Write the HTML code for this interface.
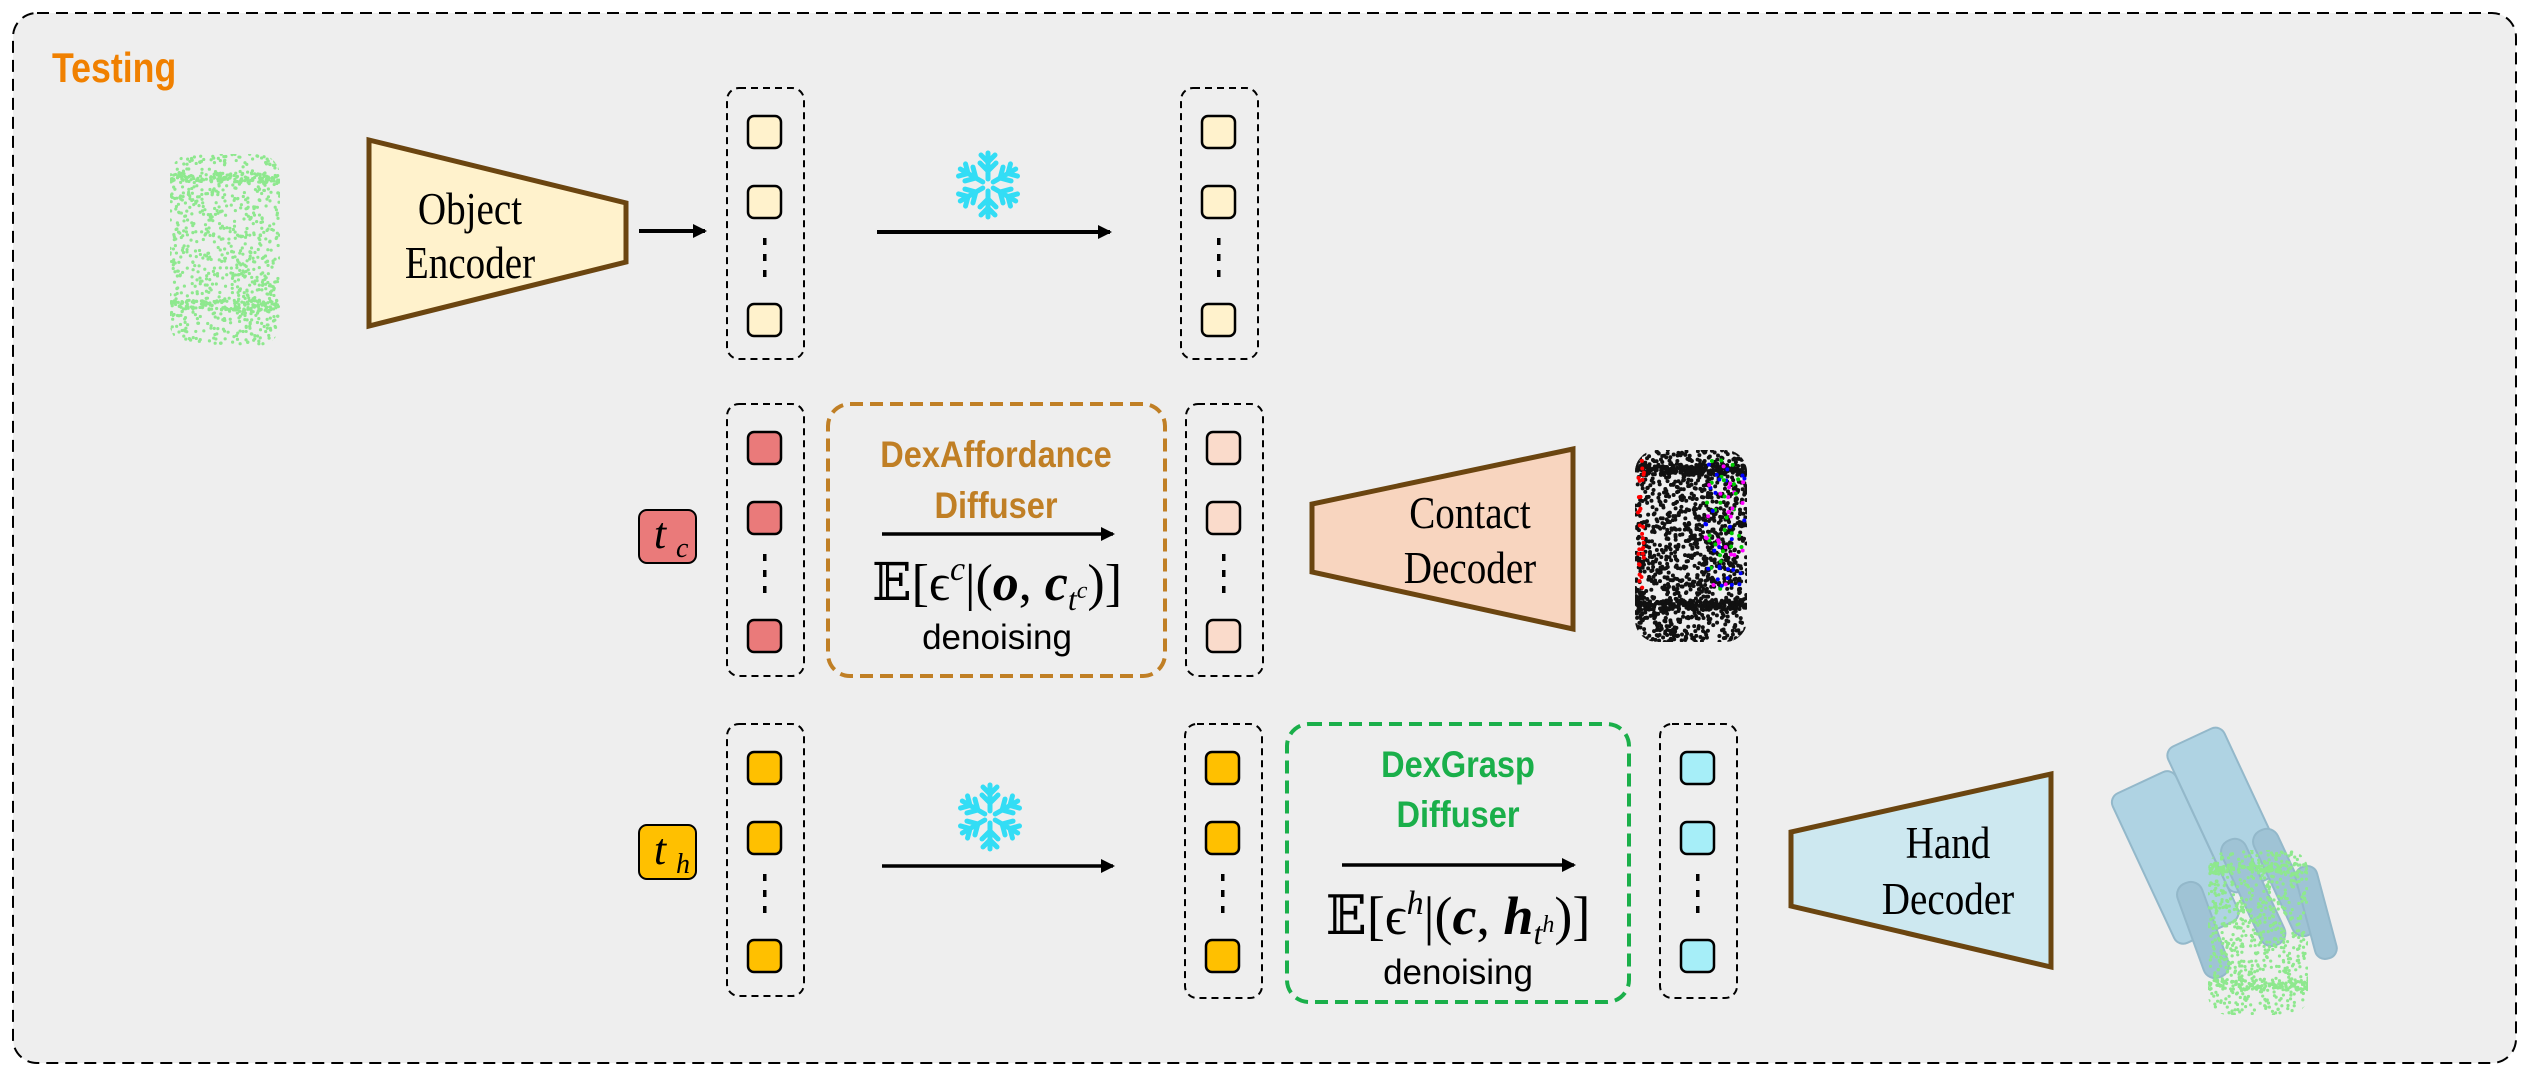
<!DOCTYPE html>
<html><head><meta charset="utf-8"><style>
html,body{margin:0;padding:0;background:#fff;width:2529px;height:1080px;overflow:hidden}
svg{position:absolute;left:0;top:0}
.serif{font-family:"Liberation Serif","DejaVu Serif",serif}
.sans{font-family:"Liberation Sans",sans-serif}
</style></head><body>
<svg id="s" width="2529" height="1080" viewBox="0 0 2529 1080" xmlns="http://www.w3.org/2000/svg">
<defs>
<marker id="ah" markerWidth="14" markerHeight="14" refX="12" refY="7" orient="auto" markerUnits="userSpaceOnUse"><path d="M0,0 L14,7 L0,14 z" fill="#000"/></marker>
<g id="flake" stroke="#33DDF5" stroke-width="5" fill="none" stroke-linecap="round">
<g id="arm"><line x1="0" y1="-6" x2="0" y2="-32"/><line x1="0" y1="-14" x2="-8" y2="-22"/><line x1="0" y1="-14" x2="8" y2="-22"/><line x1="0" y1="-23" x2="-7" y2="-30"/><line x1="0" y1="-23" x2="7" y2="-30"/></g>
<use href="#arm" transform="rotate(60)"/><use href="#arm" transform="rotate(120)"/><use href="#arm" transform="rotate(180)"/><use href="#arm" transform="rotate(240)"/><use href="#arm" transform="rotate(300)"/>
</g>
<clipPath id="cyl1"><rect x="170" y="154" width="110" height="192" rx="22"/></clipPath>
<clipPath id="cyl2"><rect x="1635" y="450" width="112" height="192" rx="22"/></clipPath>
<clipPath id="cyl3"><rect x="2208" y="850" width="100" height="165" rx="20"/></clipPath>
</defs>
<rect x="13" y="13" width="2503" height="1050" rx="24" fill="#EEEEEE" stroke="#000" stroke-width="2" stroke-dasharray="12,7"/>
<text x="52" y="82" class="sans" font-weight="bold" font-size="42" fill="#F08000" transform="translate(52 0) scale(0.85 1) translate(-52 0)">Testing</text>

<g id="clouds"></g>

<polygon points="369,140 626,203 626,262 369,326" fill="#FFF2CC" stroke="#6B4510" stroke-width="5"/>
<g transform="translate(470 0) scale(0.85 1)">
<text x="0" y="224" class="serif" font-size="46" text-anchor="middle">Object</text>
<text x="0" y="278" class="serif" font-size="46" text-anchor="middle">Encoder</text></g>
<line x1="639" y1="231" x2="705" y2="231" stroke="#000" stroke-width="4" marker-end="url(#ah)"/>

<g id="cols"></g>

<use href="#flake" x="988" y="185"/>
<line x1="877" y1="232" x2="1110" y2="232" stroke="#000" stroke-width="4" marker-end="url(#ah)"/>

<rect x="639" y="510" width="57" height="53" rx="8" fill="#EA7A7A" stroke="#000" stroke-width="2"/>
<text x="660" y="548" class="serif" font-style="italic" font-size="44" text-anchor="middle">t</text><text x="676" y="557" class="serif" font-style="italic" font-size="28">c</text>
<rect x="828" y="404" width="337" height="272" rx="22" fill="none" stroke="#C07F25" stroke-width="4" stroke-dasharray="13,7"/>
<g transform="translate(996 0) scale(0.88 1)">
<text x="0" y="467" class="sans" font-weight="bold" font-size="37" fill="#C07F25" text-anchor="middle">DexAffordance</text>
<text x="0" y="518" class="sans" font-weight="bold" font-size="37" fill="#C07F25" text-anchor="middle">Diffuser</text></g>
<line x1="882" y1="534" x2="1113" y2="534" stroke="#000" stroke-width="3.5" marker-end="url(#ah)"/>
<text x="997" y="600" class="serif" font-size="52" text-anchor="middle">𝔼[ϵ<tspan font-size="34" dy="-20" font-style="italic">c</tspan><tspan dy="20">|(</tspan><tspan font-weight="bold" font-style="italic">o</tspan>, <tspan font-weight="bold" font-style="italic">c</tspan><tspan font-size="32" dy="10" font-style="italic">t</tspan><tspan font-size="24" dy="-12" font-style="italic">c</tspan><tspan dy="2">)]</tspan></text>
<text x="997" y="649" class="sans" font-size="35" text-anchor="middle">denoising</text>

<polygon points="1573,449 1573,629 1312,572 1312,504" fill="#F8D5BF" stroke="#6B4510" stroke-width="5"/>
<g transform="translate(1470 0) scale(0.85 1)">
<text x="0" y="528" class="serif" font-size="46" text-anchor="middle">Contact</text>
<text x="0" y="583" class="serif" font-size="46" text-anchor="middle">Decoder</text></g>

<rect x="639" y="825" width="57" height="54" rx="8" fill="#FFC000" stroke="#000" stroke-width="2"/>
<text x="660" y="864" class="serif" font-style="italic" font-size="44" text-anchor="middle">t</text><text x="676" y="873" class="serif" font-style="italic" font-size="28">h</text>
<use href="#flake" x="990" y="817"/>
<line x1="882" y1="866" x2="1113" y2="866" stroke="#000" stroke-width="3.5" marker-end="url(#ah)"/>
<rect x="1287" y="724" width="342" height="278" rx="22" fill="none" stroke="#1AAF4A" stroke-width="4" stroke-dasharray="13,7"/>
<g transform="translate(1458 0) scale(0.88 1)">
<text x="0" y="777" class="sans" font-weight="bold" font-size="37" fill="#1AAF4A" text-anchor="middle">DexGrasp</text>
<text x="0" y="827" class="sans" font-weight="bold" font-size="37" fill="#1AAF4A" text-anchor="middle">Diffuser</text></g>
<line x1="1342" y1="865" x2="1574" y2="865" stroke="#000" stroke-width="3.5" marker-end="url(#ah)"/>
<text x="1458" y="934" class="serif" font-size="54" text-anchor="middle">𝔼[ϵ<tspan font-size="34" dy="-20" font-style="italic">h</tspan><tspan dy="20">|(</tspan><tspan font-weight="bold" font-style="italic">c</tspan>, <tspan font-weight="bold" font-style="italic">h</tspan><tspan font-size="32" dy="10" font-style="italic">t</tspan><tspan font-size="24" dy="-12" font-style="italic">h</tspan><tspan dy="2">)]</tspan></text>
<text x="1458" y="984" class="sans" font-size="35" text-anchor="middle">denoising</text>

<polygon points="2051,774 2051,967 1791,906 1791,832" fill="#CDE8F0" stroke="#6B4510" stroke-width="5"/>
<g transform="translate(1948 0) scale(0.85 1)">
<text x="0" y="858" class="serif" font-size="46" text-anchor="middle">Hand</text>
<text x="0" y="914" class="serif" font-size="46" text-anchor="middle">Decoder</text></g>

<g fill="#AFD3E3" stroke="#93B8CA" stroke-width="2">
<rect x="2140" y="775" width="70" height="165" rx="10" transform="rotate(-25 2175 857)"/>
<rect x="2195" y="730" width="62" height="160" rx="10" transform="rotate(-25 2226 810)"/>
<rect x="2240" y="835" width="26" height="115" rx="12" transform="rotate(-25 2253 892)" fill="#9FC3D5"/>
<rect x="2272" y="825" width="26" height="115" rx="12" transform="rotate(-25 2285 882)" fill="#9FC3D5"/>
<rect x="2190" y="880" width="26" height="100" rx="12" transform="rotate(-20 2203 930)" fill="#9FC3D5"/>
<rect x="2305" y="865" width="22" height="95" rx="10" transform="rotate(-15 2316 912)" fill="#9FC3D5"/>
</g>
<g id="cloud2"></g>
</svg>
<script>
var s=document.getElementById('cols'),ns="http://www.w3.org/2000/svg";
function el(t,a,p){var e=document.createElementNS(ns,t);for(var k in a)e.setAttribute(k,a[k]);(p||s).appendChild(e);return e;}
function col(x,y,h,fill){el('rect',{x:x,y:y,width:77,height:h,rx:12,fill:'none',stroke:'#000','stroke-width':2,'stroke-dasharray':'7,5'});
var offs=[28,98,216];offs.forEach(function(o){el('rect',{x:x+21,y:y+o,width:33,height:32,rx:6,fill:fill,stroke:'#000','stroke-width':2.5});});
[150,166,182].forEach(function(o){el('rect',{x:x+36,y:y+o,width:3.5,height:7,fill:'#000'});});}
col(727,88,271,'#FFF2CC');col(1181,88,271,'#FFF2CC');
col(727,404,272,'#EA7A7A');col(1186,404,272,'#FADBCB');
col(727,724,272,'#FFC000');col(1185,724,274,'#FFC000');col(1660,724,274,'#A6EEF8');
var seed=7;function r(){seed=(seed*16807)%2147483647;return seed/2147483647;}
function cloud(g,x0,x1,y0,y1,n,col,bands,rad){for(var i=0;i<n;i++){var x=x0+r()*(x1-x0),y=y0+r()*(y1-y0);el('circle',{cx:x,cy:y,r:rad,fill:col},g);}
bands.forEach(function(b){for(var i=0;i<n/6;i++){el('circle',{cx:x0+r()*(x1-x0),cy:b+(r()-0.5)*10,r:rad,fill:col},g);}});}
var c=document.getElementById('clouds');
var g1=el('g',{'clip-path':'url(#cyl1)'},c);
cloud(g1,170,280,154,346,800,'#8EE88E',[178,305],1.6);
var g2=el('g',{'clip-path':'url(#cyl2)'},c);
cloud(g2,1635,1747,450,642,1200,'#111',[470,605],2);
var cols=['#f00','#00f','#f0f','#0c0'];
for(var i=0;i<110;i++){var k=Math.floor(r()*4);var x=k==0?1638+r()*6:1705+r()*40;el('circle',{cx:x,cy:460+r()*130,r:2,fill:cols[k]},c);}
var g3=el('g',{'clip-path':'url(#cyl3)'},document.getElementById('cloud2'));
cloud(g3,2208,2308,850,1015,700,'#8EE88E',[868,985],1.6);
</script>
</body></html>
